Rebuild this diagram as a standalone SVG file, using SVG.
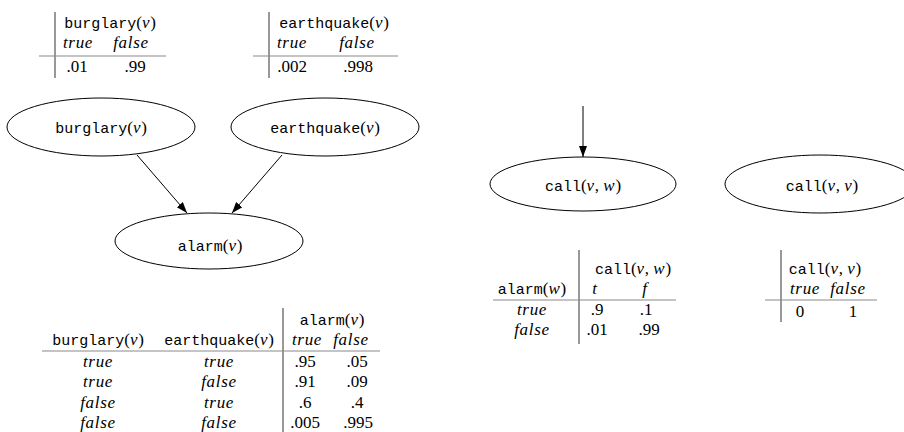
<svg xmlns="http://www.w3.org/2000/svg" width="904" height="432" viewBox="0 0 904 432">
<defs>
<style>
.tt{font-family:"Liberation Mono",monospace;font-size:15px;fill:#000}
.rm{font-family:"Liberation Serif",serif;font-size:17px;font-style:normal;letter-spacing:0;fill:#000}
.it{font-family:"Liberation Serif",serif;font-size:17px;font-style:italic;letter-spacing:0.7px;fill:#000}
.c{text-anchor:middle}
.node{fill:#fff;stroke:#000;stroke-width:1}
.hr{stroke:#8a8a8a;stroke-width:1.2}
.vr{stroke:#333;stroke-width:1}
.edge{stroke:#000;stroke-width:1;fill:none}
</style>
<marker id="ah" markerWidth="12" markerHeight="10" refX="11" refY="4" orient="auto" markerUnits="userSpaceOnUse">
<path d="M0,0 L11,4 L0,8 Z" fill="#000"/>
</marker>
</defs>
<rect width="904" height="432" fill="#fff"/>

<!-- top CPT tables -->
<g id="cpt-burglary">
<line class="vr" x1="55" y1="12" x2="55" y2="78"/>
<line class="hr" x1="39" y1="56" x2="166" y2="56"/>
<text class="tt c" x="110" y="28">burglary<tspan class="rm">(</tspan><tspan class="it">v</tspan><tspan class="rm">)</tspan></text>
<text class="it c" x="78" y="48">true</text>
<text class="it c" x="131" y="48">false</text>
<text class="rm c" x="77" y="72">.01</text>
<text class="rm c" x="135" y="72">.99</text>
</g>
<g id="cpt-earthquake">
<line class="vr" x1="269" y1="12" x2="269" y2="78"/>
<line class="hr" x1="253" y1="56" x2="398" y2="56"/>
<text class="tt c" x="334" y="28">earthquake<tspan class="rm">(</tspan><tspan class="it">v</tspan><tspan class="rm">)</tspan></text>
<text class="it c" x="292" y="48">true</text>
<text class="it c" x="357" y="48">false</text>
<text class="rm c" x="292" y="72">.002</text>
<text class="rm c" x="358" y="72">.998</text>
</g>

<!-- connectors -->
<g id="connectors">
<line class="edge" x1="137" y1="155" x2="187" y2="213" marker-end="url(#ah)"/>
<line class="edge" x1="282" y1="155" x2="232" y2="213" marker-end="url(#ah)"/>
<line class="edge" x1="583" y1="106" x2="583" y2="157" marker-end="url(#ah)"/>
</g>

<!-- nodes -->
<g id="node-burglary">
<ellipse class="node" cx="101" cy="127" rx="94" ry="29"/>
<text class="tt c" x="101" y="133">burglary<tspan class="rm">(</tspan><tspan class="it">v</tspan><tspan class="rm">)</tspan></text>
</g>
<g id="node-earthquake">
<ellipse class="node" cx="325" cy="127" rx="94" ry="29"/>
<text class="tt c" x="325" y="133">earthquake<tspan class="rm">(</tspan><tspan class="it">v</tspan><tspan class="rm">)</tspan></text>
</g>
<g id="node-alarm">
<ellipse class="node" cx="209" cy="241" rx="94" ry="28"/>
<text class="tt c" x="210" y="251">alarm<tspan class="rm">(</tspan><tspan class="it">v</tspan><tspan class="rm">)</tspan></text>
</g>
<g id="node-call-vw">
<ellipse class="node" cx="583" cy="184" rx="93" ry="27"/>
<text class="tt c" x="583" y="191">call<tspan class="rm">(</tspan><tspan class="it">v</tspan><tspan class="rm">, </tspan><tspan class="it">w</tspan><tspan class="rm">)</tspan></text>
</g>
<g id="node-call-vv">
<ellipse class="node" cx="820" cy="184" rx="95" ry="29"/>
<text class="tt c" x="822" y="191">call<tspan class="rm">(</tspan><tspan class="it">v</tspan><tspan class="rm">, </tspan><tspan class="it">v</tspan><tspan class="rm">)</tspan></text>
</g>

<!-- alarm CPT -->
<g id="cpt-alarm">
<line class="vr" x1="283" y1="308" x2="283" y2="432"/>
<line class="hr" x1="42" y1="351" x2="380" y2="351"/>
<text class="tt c" x="332" y="325">alarm<tspan class="rm">(</tspan><tspan class="it">v</tspan><tspan class="rm">)</tspan></text>
<text class="tt c" x="98" y="345">burglary<tspan class="rm">(</tspan><tspan class="it">v</tspan><tspan class="rm">)</tspan></text>
<text class="tt c" x="219" y="345">earthquake<tspan class="rm">(</tspan><tspan class="it">v</tspan><tspan class="rm">)</tspan></text>
<text class="it c" x="307" y="345">true</text>
<text class="it c" x="351" y="345">false</text>
<text class="it c" x="98" y="367">true</text>
<text class="it c" x="219" y="367">true</text>
<text class="rm c" x="305" y="367">.95</text>
<text class="rm c" x="357" y="367">.05</text>
<text class="it c" x="98" y="387">true</text>
<text class="it c" x="219" y="387">false</text>
<text class="rm c" x="305" y="387">.91</text>
<text class="rm c" x="357" y="387">.09</text>
<text class="it c" x="98" y="408">false</text>
<text class="it c" x="219" y="408">true</text>
<text class="rm c" x="305" y="408">.6</text>
<text class="rm c" x="357" y="408">.4</text>
<text class="it c" x="98" y="428">false</text>
<text class="it c" x="219" y="428">false</text>
<text class="rm c" x="305" y="428">.005</text>
<text class="rm c" x="358" y="428">.995</text>
</g>

<!-- call(v,w) CPT -->
<g id="cpt-call-vw">
<line class="vr" x1="579" y1="250" x2="579" y2="344"/>
<line class="hr" x1="493" y1="300" x2="676" y2="300"/>
<text class="tt c" x="633" y="274">call<tspan class="rm">(</tspan><tspan class="it">v</tspan><tspan class="rm">, </tspan><tspan class="it">w</tspan><tspan class="rm">)</tspan></text>
<text class="tt c" x="532" y="294">alarm<tspan class="rm">(</tspan><tspan class="it">w</tspan><tspan class="rm">)</tspan></text>
<text class="it c" x="595" y="294">t</text>
<text class="it c" x="645" y="294">f</text>
<text class="it c" x="532" y="315">true</text>
<text class="rm c" x="597" y="315">.9</text>
<text class="rm c" x="646" y="315">.1</text>
<text class="it c" x="532" y="335">false</text>
<text class="rm c" x="597" y="335">.01</text>
<text class="rm c" x="649" y="335">.99</text>
</g>

<!-- call(v,v) CPT -->
<g id="cpt-call-vv">
<line class="vr" x1="781" y1="250" x2="781" y2="322"/>
<line class="hr" x1="765" y1="300" x2="877" y2="300"/>
<text class="tt c" x="825" y="274">call<tspan class="rm">(</tspan><tspan class="it">v</tspan><tspan class="rm">, </tspan><tspan class="it">v</tspan><tspan class="rm">)</tspan></text>
<text class="it c" x="805" y="294">true</text>
<text class="it c" x="848" y="294">false</text>
<text class="rm c" x="800" y="317">0</text>
<text class="rm c" x="853" y="317">1</text>
</g>
</svg>
